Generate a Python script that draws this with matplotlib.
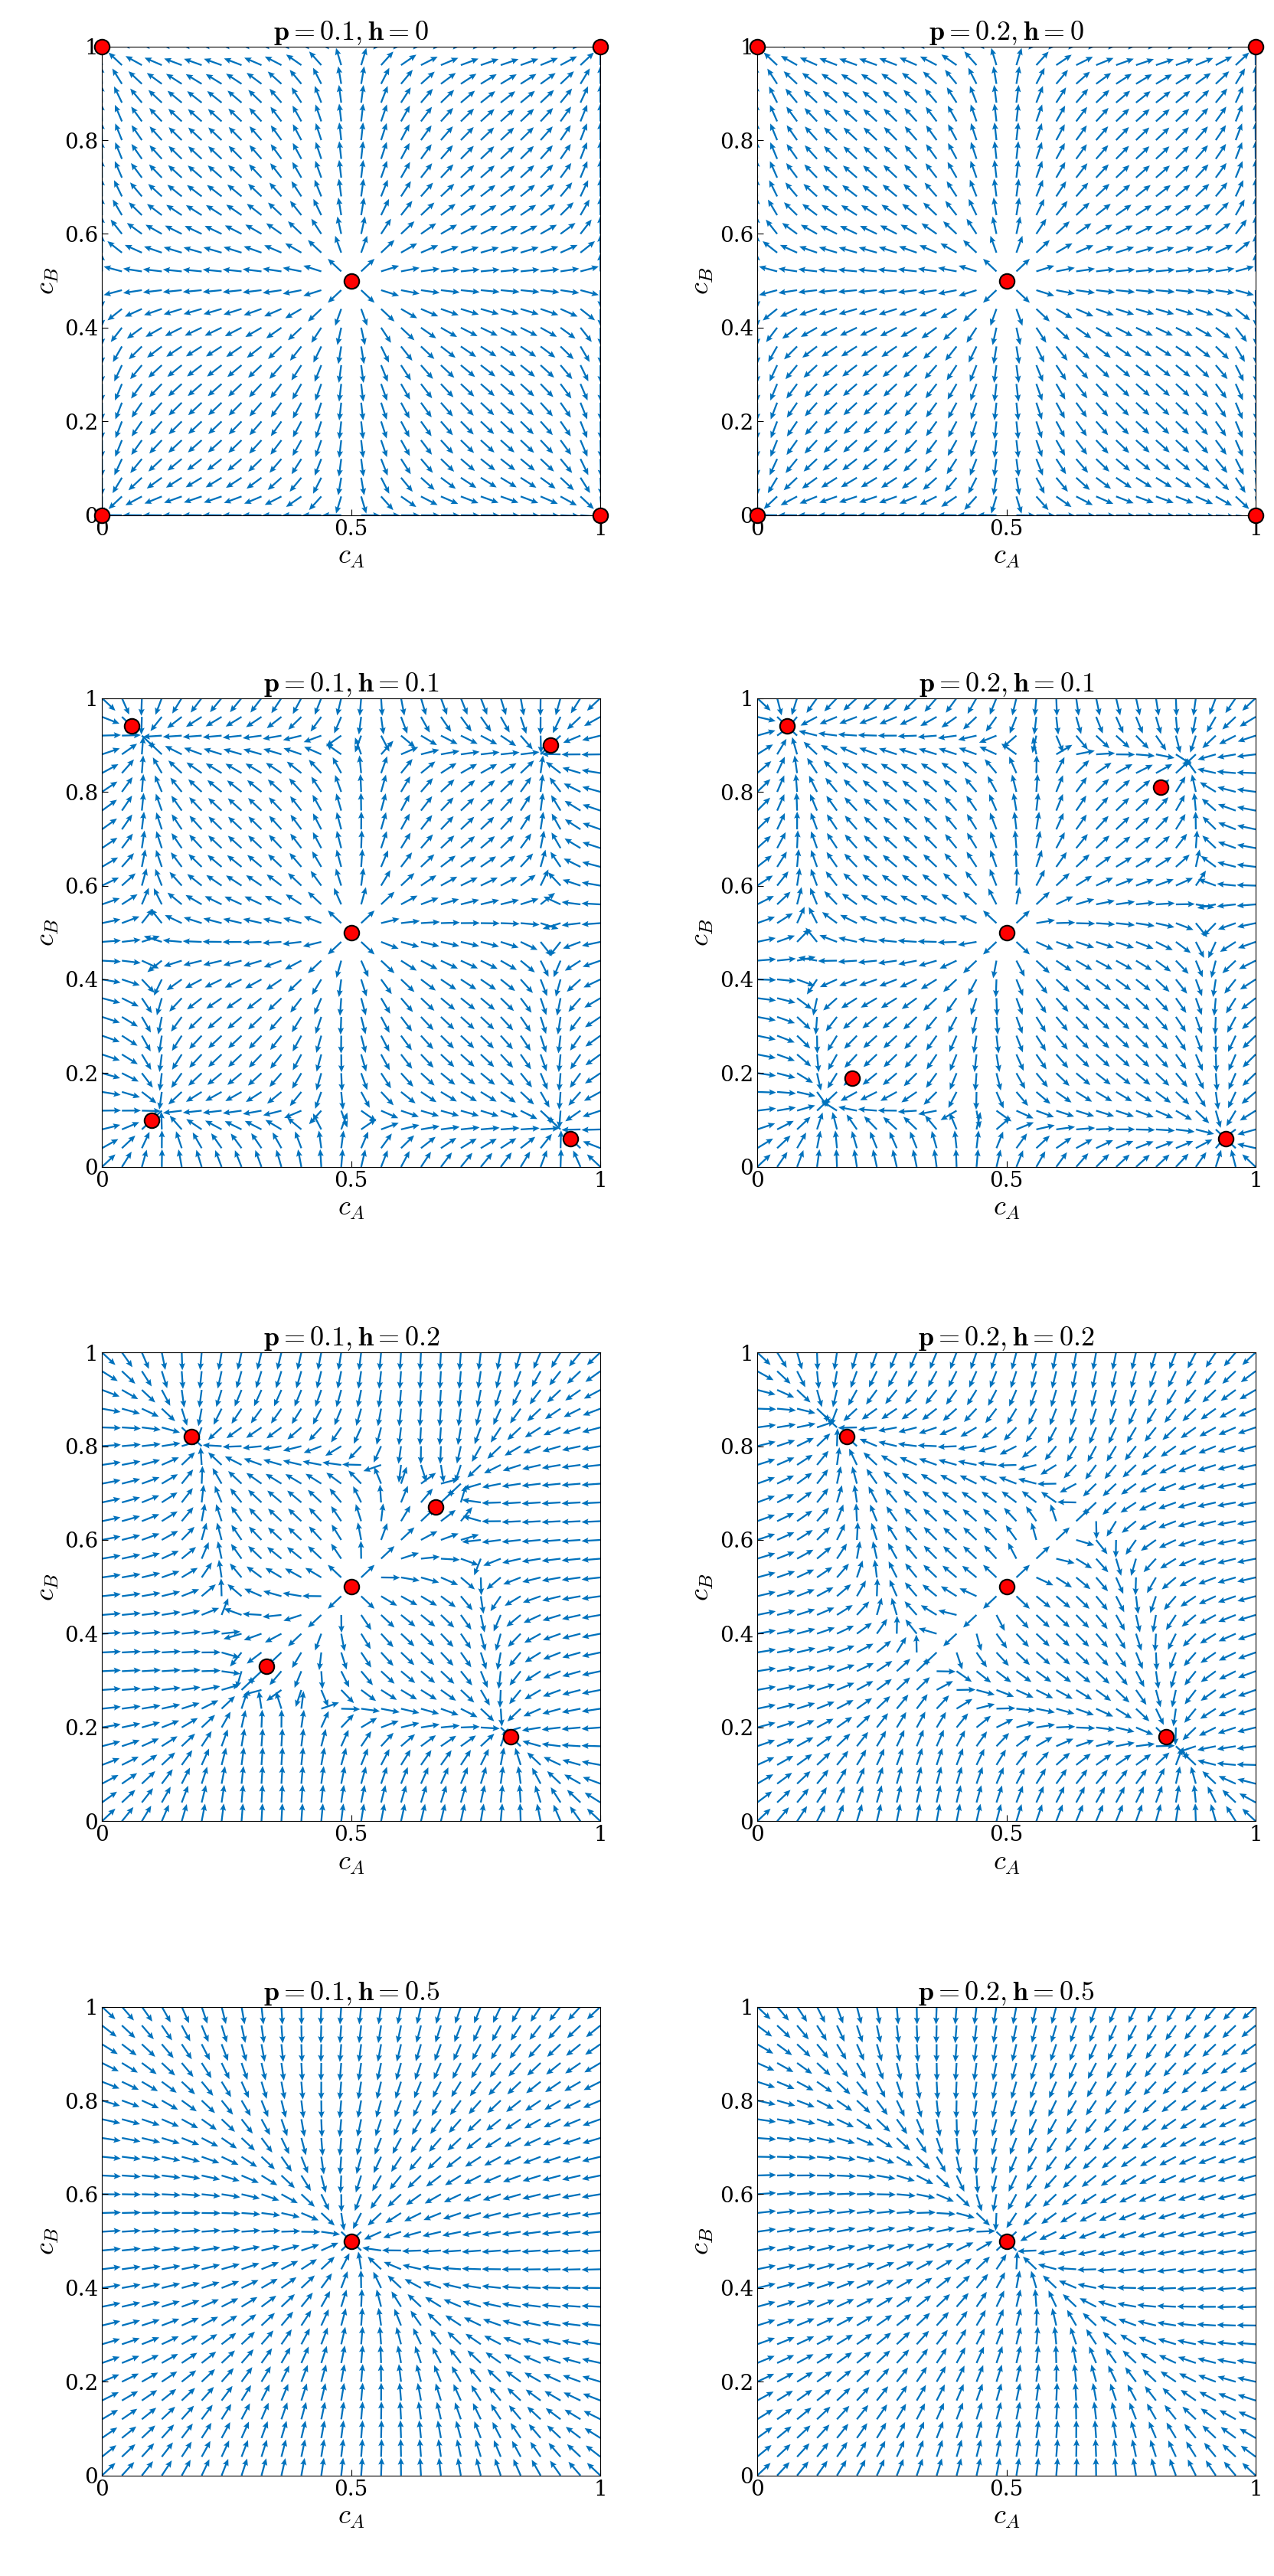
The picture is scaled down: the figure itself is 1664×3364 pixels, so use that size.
import numpy as np
import matplotlib
matplotlib.use("Agg")
import matplotlib.pyplot as plt

plt.rcParams['mathtext.fontset'] = 'cm'
plt.rcParams['font.family'] = ['DejaVu Serif']

p_vals = [0.1, 0.2]
h_vals = [0, 0.1, 0.2, 0.5]
p_labels = ['0.1', '0.2']
h_labels = ['0', '0.1', '0.2', '0.5']

# fixed points
fp = {
    (0, 0): ([0, 1, 0.5, 0, 1], [1, 1, 0.5, 0, 0]),
    (0, 1): ([0, 1, 0.5, 0, 1], [1, 1, 0.5, 0, 0]),
    (1, 0): ([0.06, 0.90, 0.5, 0.10, 0.94], [0.94, 0.90, 0.5, 0.10, 0.06]),
    (1, 1): ([0.06, 0.81, 0.5, 0.19, 0.94], [0.94, 0.81, 0.5, 0.19, 0.06]),
    (2, 0): ([0.18, 0.67, 0.5, 0.33, 0.82], [0.82, 0.67, 0.5, 0.33, 0.18]),
    (2, 1): ([0.18, 0.5, 0.82], [0.82, 0.5, 0.18]),
    (3, 0): ([0.5], [0.5]),
    (3, 1): ([0.5], [0.5]),
}

n = 26
g = np.linspace(0, 1, n)
X, Y = np.meshgrid(g, g)

def field(p, h):
    u, v = X - 0.5, Y - 0.5
    c = 1.8
    e = 3 * p * h * (1 - h)
    du = u * (0.5 - 2 * u**2 - c * h) - e * v + 0.15 * p * (1 - h) * (v - u) * (u * v)
    dv = v * (0.5 - 2 * v**2 - c * h) - e * u + 0.15 * p * (1 - h) * (u - v) * (u * v)
    m = np.hypot(du, dv) + 1e-12
    return du / m, dv / m

fig = plt.figure(figsize=(16.65, 33.64), dpi=100)
lefts = [0.080, 0.594]
bottoms = [0.800, 0.547, 0.293, 0.039]
W, H = 0.391, 0.182
for r in range(4):
    for cidx in range(2):
        ax = fig.add_axes([lefts[cidx], bottoms[r], W, H])
        U, V = field(p_vals[cidx], h_vals[r])
        ax.quiver(X, Y, U, V, color='#0072BD', angles='xy', scale_units='xy',
                  scale=1 / 0.038, width=0.0035, headwidth=3.5, headlength=4,
                  headaxislength=3.5)
        xs, ys = fp[(r, cidx)]
        ax.plot(xs, ys, 'o', ms=14, mfc='red', mec='black', mew=1.5, clip_on=False, zorder=5)
        ax.set_xlim(0, 1); ax.set_ylim(0, 1)
        ax.set_xticks([0, 0.5, 1]); ax.set_xticklabels(['0', '0.5', '1'])
        ax.set_yticks([0, 0.2, 0.4, 0.6, 0.8, 1])
        ax.set_yticklabels(['0', '0.2', '0.4', '0.6', '0.8', '1'])
        ax.tick_params(labelsize=20, direction='in', length=6)
        ax.set_xlabel(r"$c_A$", fontsize=26)
        ax.set_ylabel(r"$c_B$", fontsize=26)
        ax.set_title(r"$\mathbf{p=" + p_labels[cidx] + r", h=" + h_labels[r] + r"}$",
                     fontsize=26)
fig.savefig("out.png", dpi=100)
